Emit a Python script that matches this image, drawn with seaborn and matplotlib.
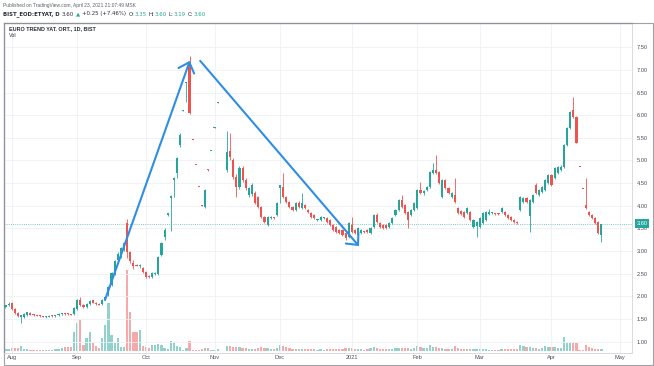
import numpy as np
import pandas as pd
import matplotlib
matplotlib.use("Agg")
import matplotlib.pyplot as plt
import matplotlib.transforms as mtransforms
from matplotlib.patches import Rectangle
import seaborn as sns

nan = np.nan
# ---------------- data (daily bars, BIST:ETYAT) ----------------
dates = pd.bdate_range("2020-07-30", "2021-04-23")

opens = [1.76,1.80,1.86,1.72,1.63,1.55,1.55,1.59,1.64,1.60,1.58,1.57,
         1.56,1.54,1.55,1.57,1.56,1.58,1.61,1.63,1.62,1.61,
         1.62,1.72,1.93,1.80,1.77,1.84,1.91,1.86,1.84,1.83,
         1.93,2.03,2.25,2.50,2.80,2.87,3.02,3.62,2.98,2.74,
         2.70,2.66,2.63,2.54,2.46,2.43,2.50,2.50,2.91,3.31,
         3.80,4.18,4.58,4.72,5.34,6.10,6.70,7.15,5.46,4.91,
         4.42,4.01,3.97,4.80,5.20,5.72,6.28,nan,nan,
         4.79,5.20,5.01,4.64,4.41,4.83,4.57,4.24,4.26,4.28,4.19,
         3.97,3.75,3.57,3.72,3.74,3.80,4.40,4.41,4.19,4.08,
         3.97,3.90,4.06,3.95,4.02,3.91,3.84,3.80,3.68,3.69,
         3.72,3.73,3.69,3.58,3.53,3.47,3.47,3.40,3.31,3.58,
         3.47,3.36,3.40,3.43,3.47,3.40,3.53,3.80,3.62,3.58,
         3.58,3.53,3.62,3.80,3.91,4.13,4.02,3.86,3.80,3.91,
         3.95,4.35,4.28,4.35,4.41,4.72,4.79,4.74,4.19,4.57,
         4.39,4.19,4.24,3.95,3.88,3.86,3.84,3.86,3.53,3.55,
         3.53,3.62,3.69,3.82,3.83,3.82,3.83,3.86,3.86,3.80,
         3.75,3.69,3.64,3.91,4.08,4.17,3.78,4.08,4.46,4.24,
         4.30,4.35,4.50,4.68,4.61,4.72,4.80,4.85,5.34,5.71,
         6.12,5.96,4.86,4.38,4.01,3.86,3.80,3.73,3.64,3.35]

highs = [1.82,1.88,1.88,1.74,1.65,1.60,1.64,1.66,1.66,1.61,1.59,1.58,
         1.57,1.56,1.58,1.58,1.60,1.63,1.64,1.64,1.63,1.62,
         1.76,1.95,1.99,1.83,1.86,1.92,1.93,1.88,1.85,1.95,
         2.01,2.23,2.53,2.80,2.97,3.09,3.20,3.70,3.00,2.80,
         2.72,2.72,2.65,2.56,2.48,2.53,2.53,2.89,3.20,3.51,
         3.84,4.24,4.64,5.08,5.60,6.11,6.73,7.30,5.46,4.91,
         4.42,4.01,4.37,4.81,5.22,5.74,6.30,nan,nan,
         5.64,5.60,5.05,4.70,4.88,4.88,4.62,4.42,4.50,4.32,4.22,
         4.00,3.78,3.78,3.78,3.76,4.08,4.47,4.72,4.22,4.10,
         4.00,4.08,4.10,4.28,4.05,3.93,3.86,3.82,3.71,3.77,
         3.75,3.75,3.71,3.60,3.55,3.49,3.49,3.42,3.64,3.75,
         3.49,3.53,3.49,3.45,3.49,3.53,3.82,3.84,3.64,3.60,
         3.60,3.64,3.75,3.93,4.15,4.24,4.05,3.88,3.93,4.08,
         4.37,4.53,4.35,4.43,4.76,4.94,5.12,4.76,4.59,4.60,
         4.41,4.30,4.61,3.97,3.90,3.88,3.97,3.88,3.71,3.66,
         3.75,3.86,3.88,3.93,3.86,3.84,3.85,3.97,3.88,3.82,
         3.77,3.71,3.66,4.21,4.19,4.19,4.15,4.26,4.50,4.37,
         4.43,4.59,4.70,4.70,4.85,4.87,4.90,5.36,5.73,6.09,
         6.40,5.98,4.86,4.38,4.61,3.88,3.82,3.75,3.66,3.60]

lows = [1.74,1.78,1.70,1.61,1.54,1.42,1.53,1.57,1.58,1.57,1.56,1.55,
        1.54,1.53,1.54,1.55,1.55,1.57,1.60,1.60,1.60,1.59,
        1.60,1.70,1.78,1.74,1.75,1.82,1.85,1.82,1.81,1.82,
        1.91,2.01,2.23,2.48,2.76,2.85,3.00,2.85,2.74,2.60,
        2.66,2.63,2.52,2.41,2.40,2.41,2.48,2.48,2.89,3.25,
        3.78,3.45,4.19,4.62,5.30,6.10,6.30,6.02,5.45,4.90,
        4.41,4.00,3.95,4.76,5.20,5.72,6.28,nan,nan,
        4.75,5.00,4.60,4.19,4.38,4.52,4.35,4.20,4.22,4.03,3.95,
        3.72,3.62,3.55,3.70,3.71,3.78,4.06,4.17,4.06,3.95,
        3.88,3.88,3.96,3.93,3.93,3.84,3.73,3.71,3.66,3.67,
        3.70,3.62,3.56,3.45,3.40,3.38,3.34,3.24,3.29,3.40,
        3.38,3.34,3.38,3.40,3.40,3.38,3.51,3.62,3.51,3.49,
        3.49,3.51,3.60,3.78,3.89,3.95,3.82,3.51,3.78,3.89,
        3.93,4.26,4.24,4.33,4.39,4.70,4.70,4.48,4.17,4.37,
        4.26,4.17,4.06,3.82,3.80,3.73,3.82,3.67,3.51,3.31,
        3.51,3.60,3.67,3.80,3.81,3.79,3.80,3.84,3.78,3.71,
        3.67,3.62,3.60,3.89,4.06,4.06,3.42,4.06,4.26,4.22,
        4.28,4.33,4.48,4.44,4.59,4.70,4.76,4.83,5.32,5.69,
        5.94,5.38,4.85,4.37,3.94,3.78,3.71,3.60,3.38,3.19]

closes = [1.80,1.84,1.72,1.63,1.56,1.58,1.62,1.65,1.60,1.58,1.57,1.56,
          1.55,1.55,1.57,1.56,1.59,1.62,1.63,1.61,1.61,1.60,
          1.74,1.92,1.80,1.76,1.84,1.90,1.86,1.83,1.82,1.93,
          1.99,2.21,2.51,2.78,2.93,3.07,3.18,2.98,2.78,2.66,
          2.68,2.70,2.54,2.43,2.43,2.51,2.52,2.87,3.18,3.47,
          3.84,4.22,4.62,5.05,5.56,6.11,6.72,6.04,5.45,4.90,
          4.41,4.00,4.35,4.78,5.22,5.74,6.30,nan,nan,
          5.19,5.08,4.64,4.41,4.83,4.57,4.39,4.39,4.46,4.06,3.97,
          3.75,3.64,3.75,3.75,3.73,4.06,4.46,4.19,4.08,3.97,
          3.90,4.06,3.98,4.06,3.95,3.86,3.75,3.73,3.69,3.75,
          3.73,3.64,3.58,3.47,3.42,3.40,3.36,3.29,3.62,3.42,
          3.40,3.51,3.47,3.42,3.42,3.51,3.80,3.64,3.53,3.51,
          3.51,3.62,3.73,3.91,4.13,3.97,3.84,3.69,3.91,4.06,
          4.35,4.28,4.33,4.41,4.74,4.79,4.72,4.50,4.57,4.39,
          4.28,4.28,4.08,3.84,3.82,3.75,3.95,3.69,3.69,3.64,
          3.73,3.84,3.86,3.86,3.85,3.81,3.82,3.95,3.80,3.73,
          3.69,3.64,3.62,4.19,4.17,4.08,4.12,4.24,4.28,4.35,
          4.41,4.57,4.68,4.46,4.83,4.85,4.85,5.34,5.71,6.07,
          5.96,5.38,4.85,4.37,3.96,3.80,3.73,3.62,3.40,3.60]

volumes = [2,2.5,3,3,3,5,2,2,1.5,1.5,1.5,1.5,
           1.2,1.2,1.5,1.5,2,2,3,4,4,4,
           19,28,32,6,13,19,8,5,3,13,
           26,48,16,8,13,4,4,81,39,19,
           19,21,5,4,3,6,6,7,6,3,
           2,10,9,5,4,1,3,10,1,1,
           1.5,2,3,3,1.5,1.5,2,nan,nan,
           5,5,4,4,4,3,3,2,2,2.5,3,
           4,3,3,2,2,3,6,5,4,3,
           2,2,2,2.5,2,2,2,2,1.5,2,
           1.5,2,2,2.5,2,2,2.5,3,3,3,
           2,2.5,2,1.5,2,3,4,3,2.5,2,
           2,2,2.5,3,3.5,3,3,3,2.5,3,
           5,4,3,3,6,4,4,3,3,2.5,
           2,2.5,5,3,2.5,2,2,2.5,2,2,
           2.5,2.5,2,1.5,1.5,1.5,1.5,2,2,2,
           2,2,2,6,5,4,4,3,3,2.5,
           3,5,4,4,4,3.5,3,14,8,8,
           8,8,1,1,6,4,3,2,2,2]

month_labels = ["Aug", "Sep", "Oct", "Nov", "Dec", "2021", "Feb", "Mar", "Apr", "May"]
price_ticks = [1.00, 1.50, 2.00, 2.50, 3.00, 3.50, 4.00, 4.50, 5.00, 5.50, 6.00, 6.50, 7.00, 7.50]
last_price = 3.60

for arr in (opens, highs, lows, closes, volumes):
    assert len(arr) == len(dates), (len(arr), len(dates))

df = pd.DataFrame({"date": dates, "open": opens, "high": highs,
                   "low": lows, "close": closes, "volume": volumes})
df["x"] = np.arange(len(df))
df["up"] = df["close"] >= df["open"]

# ---------------- style ----------------
sns.set_style("white")
plt.rcParams["font.family"] = ["Liberation Sans", "DejaVu Sans"]

UP, DOWN = "#26a69a", "#ef5350"
VUP, VDOWN = "#93d2cc", "#f6a9a8"
BLUE = "#2f8de4"
TXT = "#4a4d55"

W, H = 654, 366
fig = plt.figure(figsize=(W / 100, H / 100), dpi=100)
fig.patch.set_facecolor("white")
ax_l, ax_r, ax_t, ax_b = 4, 632, 23, 353
ax = fig.add_axes([ax_l / W, 1 - ax_b / H, (ax_r - ax_l) / W, (ax_b - ax_t) / H])
axv = ax.twinx()
ax.set_zorder(axv.get_zorder() + 1)
ax.patch.set_visible(False)

xmin, xmax = -0.47, 200.8
ax.set_xlim(xmin, xmax)
axv.set_xlim(xmin, xmax)
ax.set_ylim(0.7506, 8.035)

# volume pane
v = df.dropna(subset=["volume"])
axv.bar(v["x"], v["volume"], width=0.72,
        color=np.where(v["up"], VUP, VDOWN), linewidth=0)
axv.set_ylim(-2, 328)
axv.set_yticks([])
for s in axv.spines.values():
    s.set_visible(False)

# candles
c = df.dropna(subset=["open"])
cols = np.where(c["up"], UP, DOWN)
ax.vlines(c["x"], c["low"], c["high"], colors=cols, linewidth=0.6, zorder=3)
body_lo = np.minimum(c["open"], c["close"])
body_h = np.maximum(np.abs(c["close"] - c["open"]), 0.022)
ax.bar(c["x"], body_h, bottom=body_lo, width=0.68, color=cols, linewidth=0, zorder=4)

# grid + ticks
month_idx = []
ext = pd.bdate_range(dates[0], "2021-05-07")
for k in range(1, len(ext)):
    if ext[k].month != ext[k - 1].month:
        month_idx.append(k)
ax.set_xticks(month_idx[:len(month_labels)])
ax.set_xticklabels(month_labels)
ax.set_yticks(price_ticks)
ax.set_yticklabels([f"{p:.2f}" for p in price_ticks])
ax.yaxis.tick_right()
ax.tick_params(axis="y", length=0, pad=3.2, labelsize=4.1, labelcolor=TXT)
ax.tick_params(axis="x", length=0, pad=1.6, labelsize=4.1, labelcolor=TXT)
ax.grid(True, color="#eef0f4", linewidth=0.6, zorder=0)
ax.set_axisbelow(True)
for side in ("left", "top"):
    ax.spines[side].set_color("#8f9196")
    ax.spines[side].set_linewidth(0.9)
for side in ("right", "bottom"):
    ax.spines[side].set_color("#d3d5da")
    ax.spines[side].set_linewidth(0.6)

# last price line + label
ax.axhline(last_price, color=UP, linestyle=(0, (1, 1.6)), linewidth=0.6, alpha=0.8, zorder=2)
trans = mtransforms.blended_transform_factory(ax.transAxes, ax.transData)
ax.text((642 - ax_l) / (ax_r - ax_l), last_price, f"{last_price:.2f}", transform=trans,
        ha="center", va="center", fontsize=4.1, color="white", zorder=10, clip_on=False,
        bbox=dict(boxstyle="square,pad=0.35", fc=UP, ec="none"))

# trend arrows (drawn annotations)
arrow_up = ((29.9 + 2, 1.92), (57.1 + 2, 7.20))
arrow_down = ((60.4 + 2, 7.20), (111.3 + 2, 3.11))
for (x0, y0), (x1, y1) in (arrow_up, arrow_down):
    ax.annotate("", xy=(x1, y1), xytext=(x0, y0), zorder=8,
                arrowprops=dict(arrowstyle="->,head_length=0.65,head_width=0.6",
                                color=BLUE, lw=1.5, shrinkA=0, shrinkB=0))

# chart titles inside the pane
fig.text(9 / W, 1 - 28.8 / H, "EURO TREND YAT. ORT., 1D, BIST", fontsize=3.9,
         fontweight="bold", color="#2a2e39", va="center", ha="left")
fig.text(9 / W, 1 - 35.3 / H, "Vol", fontsize=3.9, color="#2a2e39", va="center", ha="left")

# header lines
fig.text(3 / W, 1 - 5 / H, "Published on TradingView.com, April 23, 2021 21:07:49 MSK",
         fontsize=3.55, color="#5d606b", va="center", ha="left")
pieces = [("BIST_EOD:ETYAT, D", "#2a2e39", "bold"), ("3.60", "#2a2e39", "normal"),
          ("\u25B2", UP, "normal"), ("+0.25 (+7.46%)", "#2a2e39", "normal"),
          ("O:", "#2a2e39", "normal"), ("3.35", UP, "normal"),
          ("H:", "#2a2e39", "normal"), ("3.60", UP, "normal"),
          ("L:", "#2a2e39", "normal"), ("3.19", UP, "normal"),
          ("C:", "#2a2e39", "normal"), ("3.60", UP, "normal")]
prev = None
for i, (s, col, wt) in enumerate(pieces):
    if prev is None:
        prev = fig.text(3 / W, 1 - 14 / H, s, fontsize=3.85, color=col, fontweight=wt,
                        va="center", ha="left", family=["DejaVu Sans"])
    else:
        gap = 0.2 if s[0].isdigit() and pieces[i - 1][0].endswith(":") else 1.5
        prev = ax.annotate(s, xy=(1, 0.5), xycoords=prev, xytext=(gap, 0),
                           textcoords="offset points", fontsize=3.85, color=col,
                           fontweight=wt, va="center", ha="left", annotation_clip=False,
                           family=["DejaVu Sans"])

# outer frame
fig.add_artist(Rectangle((3.5 / W, 1.5 / H), (653 - 3.5) / W, (364.5 - 23) / H,
                         transform=fig.transFigure, fill=False,
                         edgecolor="#a0a2a8", linewidth=0.8))

fig.savefig("out.png", dpi=100)
